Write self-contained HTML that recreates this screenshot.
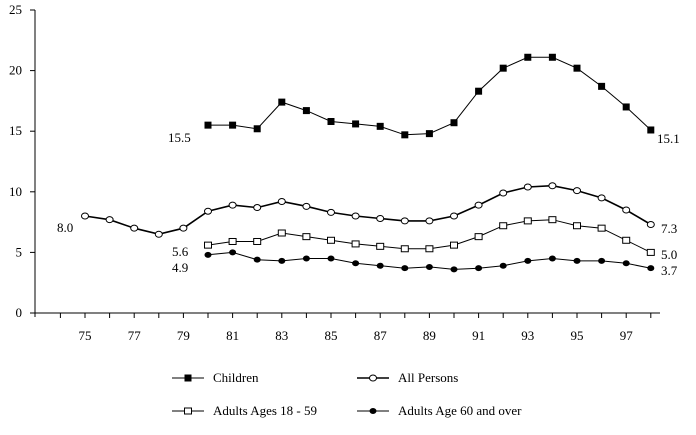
<!DOCTYPE html>
<html><head><style>
body{margin:0;background:#fff;width:696px;height:430px;overflow:hidden}
svg text{font-family:"Liberation Serif","Times New Roman",serif;font-size:13px;fill:#000}
</style></head><body>
<svg id="s" width="696" height="430" xmlns="http://www.w3.org/2000/svg"></svg>
<script>
const s=document.getElementById('s');let h='';
const X=y=>85+(y-75)*24.6, Y=v=>313-v*12.12;
h+='<line x1="35" y1="10" x2="35" y2="317" stroke="#000"/>';
h+='<line x1="35" y1="313" x2="660" y2="313" stroke="#000"/>';
for(let v=0;v<=25;v+=5){h+=`<line x1="30" y1="${Y(v)}" x2="35" y2="${Y(v)}" stroke="#000"/><text x="22" y="${Y(v)+4}" text-anchor="end">${v}</text>`;}
for(let yr=74;yr<=98;yr++){h+=`<line x1="${X(yr)}" y1="313" x2="${X(yr)}" y2="318" stroke="#000"/>`;}
for(let yr=75;yr<=97;yr+=2)h+=`<text x="${X(yr)}" y="340" text-anchor="middle">${yr}</text>`;
const ch=[15.5,15.5,15.2,17.4,16.7,15.8,15.6,15.4,14.7,14.8,15.7,18.3,20.2,21.1,21.1,20.2,18.7,17.0,15.1];
const ap=[8.0,7.7,7.0,6.5,7.0,8.4,8.9,8.7,9.2,8.8,8.3,8.0,7.8,7.6,7.6,8.0,8.9,9.9,10.4,10.5,10.1,9.5,8.5,7.3];
const ad=[5.6,5.9,5.9,6.6,6.3,6.0,5.7,5.5,5.3,5.3,5.6,6.3,7.2,7.6,7.7,7.2,7.0,6.0,5.0];
const ol=[4.8,5.0,4.4,4.3,4.5,4.5,4.1,3.9,3.7,3.8,3.6,3.7,3.9,4.3,4.5,4.3,4.3,4.1,3.7];
function ser(d,start,mk,w){let p=d.map((v,i)=>X(start+i).toFixed(1)+','+Y(v).toFixed(1)).join(' ');
h+=`<polyline points="${p}" fill="none" stroke="#000" stroke-width="${w}"/>`;
d.forEach((v,i)=>h+=mk(X(start+i),Y(v)));}
const fsq=(x,y)=>`<rect x="${x-3.5}" y="${y-3.5}" width="7" height="7" fill="#000"/>`;
const osq=(x,y)=>`<rect x="${x-3.5}" y="${y-3}" width="7" height="6" fill="#fff" stroke="#000"/>`;
const oc=(x,y)=>`<ellipse cx="${x}" cy="${y}" rx="3.5" ry="3" fill="#fff" stroke="#000"/>`;
const fc=(x,y)=>`<ellipse cx="${x}" cy="${y}" rx="3.5" ry="3" fill="#000"/>`;
ser(ch,80,fsq,1);ser(ap,75,oc,1.6);ser(ad,80,osq,1);ser(ol,80,fc,1);
const lab=[[168,142,'15.5'],[657,143,'15.1'],[57,232,'8.0'],[661,233,'7.3'],[172,256,'5.6'],[661,259,'5.0'],[172,272,'4.9'],[661,275,'3.7']];
lab.forEach(l=>h+=`<text x="${l[0]}" y="${l[1]}">${l[2]}</text>`);
h+=`<line x1="172" y1="378" x2="204" y2="378" stroke="#000"/>`+fsq(188,378)+`<text x="213" y="382">Children</text>`;
h+=`<line x1="357" y1="378" x2="389" y2="378" stroke="#000" stroke-width="1.6"/>`+oc(373,378)+`<text x="398" y="382">All Persons</text>`;
h+=`<line x1="172" y1="411" x2="204" y2="411" stroke="#000"/>`+osq(188,411)+`<text x="213" y="415">Adults Ages 18 - 59</text>`;
h+=`<line x1="357" y1="411" x2="389" y2="411" stroke="#000"/>`+fc(373,411)+`<text x="398" y="415">Adults Age 60 and over</text>`;
s.innerHTML=h;
</script>
</body></html>
